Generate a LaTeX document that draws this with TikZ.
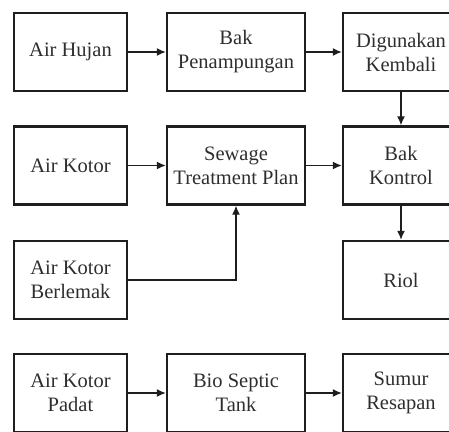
\documentclass[tikz,border=0pt]{standalone}
\usepackage{fontspec}
\setmainfont{Liberation Serif}
\usetikzlibrary{arrows.meta,positioning}
\definecolor{garis}{HTML}{1E1E1E}
\definecolor{teks}{HTML}{2E2E2E}

\begin{document}
\begin{tikzpicture}[x=1pt,y=-1pt,
	kotak/.style={draw=garis,line width=2.4pt,minimum height=78pt,align=center,text=teks,inner sep=2pt,font=\fontsize{20.5}{24}\selectfont},
	panah/.style={-{Latex[length=9pt,width=8pt]},line width=1.3pt,draw=garis}]
			\clip (0,0) rectangle (449,431);
			% kolom pertama
			\node[kotak,minimum width=113pt] (hujan) at (70.5,52) {Air Hujan};
			\node[kotak,minimum width=113pt] (kotor) at (70.5,165.5) {Air Kotor};
			\node[kotak,minimum width=113pt] (lemak) at (70.5,280) {Air Kotor\\Berlemak};
			\node[kotak,minimum width=113pt] (padat) at (70.5,393) {Air Kotor\\Padat};
			% kolom kedua
			\node[kotak,minimum width=138pt] (tampung) at (236,52) {Bak\\Penampungan};
			\node[kotak,minimum width=138pt] (stp) at (236,165.5) {Sewage\\Treatment Plan};
			\node[kotak,minimum width=138pt] (septic) at (236,393) {Bio Septic\\Tank};
			% kolom ketiga
			\node[kotak,minimum width=116pt] (guna) at (401,52) {Digunakan\\Kembali};
			\node[kotak,minimum width=116pt] (kontrol) at (401,165.5) {Bak\\Kontrol};
			\node[kotak,minimum width=116pt] (riol) at (401,280) {Riol};
			\node[kotak,minimum width=116pt] (sumur) at (401,393) {Sumur\\Resapan};
			% panah
			\draw[panah] (hujan) -- (tampung);
			\draw[panah] (tampung) -- (guna);
			\draw[panah] (guna) -- (kontrol);
			\draw[panah] (kotor) -- (stp);
			\draw[panah] (stp) -- (kontrol);
			\draw[panah] (kontrol) -- (riol);
			\draw[panah] (lemak.east) -| (stp.south);
			\draw[panah] (padat) -- (septic);
			\draw[panah] (septic) -- (sumur);
		\end{tikzpicture}
\end{document}
